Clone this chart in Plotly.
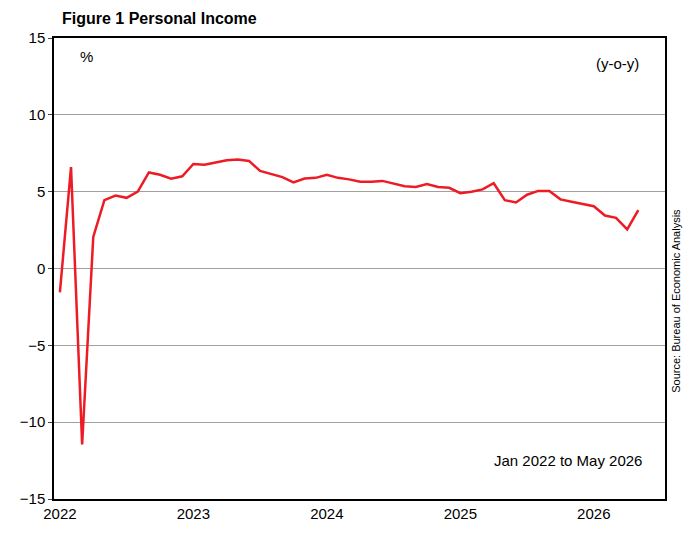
import plotly.graph_objects as go

years = ["2022", "2023", "2024", "2025", "2026"]
income_yoy = [
    -1.55, 6.6, -11.45, 2.05, 4.45, 4.75, 4.6, 5.0, 6.25, 6.1, 5.85, 6.0,
    6.8, 6.75, 6.9, 7.05, 7.1, 7.0, 6.35, 6.15, 5.95, 5.6, 5.85, 5.9,
    6.1, 5.9, 5.8, 5.65, 5.65, 5.7, 5.55, 5.35, 5.3, 5.5, 5.3, 5.25,
    4.9, 5.0, 5.15, 5.55, 4.45, 4.3, 4.8, 5.05, 5.05, 4.5, 4.35, 4.2,
    4.05, 3.45, 3.3, 2.55, 3.8,
]
months = list(range(len(income_yoy)))

fig = go.Figure()
fig.add_trace(go.Scatter(x=months, y=income_yoy, mode="lines",
                         line=dict(color="#ed1c24", width=2.5), showlegend=False))

fig.update_layout(
    width=693, height=539,
    margin=dict(l=31, r=36, t=30, b=48),
    plot_bgcolor="white", paper_bgcolor="white",
    font=dict(family="Liberation Sans, Arial", size=15, color="black"),
    xaxis=dict(range=[-0.53, 54.4], tickvals=[0, 12, 24, 36, 48], ticktext=years,
               showgrid=False, showline=True, linecolor="black", linewidth=1.5,
               mirror=True, ticks="", zeroline=False),
    yaxis=dict(range=[-15, 15], dtick=5, showgrid=True, gridcolor="#a0a0a0",
               gridwidth=1.2, showline=True, linecolor="black", linewidth=1.5,
               mirror=True, ticks="outside", ticklen=4, zeroline=False),
    annotations=[
        dict(text="<b>Figure 1 Personal Income</b>", xref="paper", yref="paper",
             x=0.01, y=1.02, xanchor="left", yanchor="bottom", showarrow=False,
             font=dict(size=16)),
        dict(text="%", xref="paper", yref="paper", x=0.04, y=0.96,
             xanchor="left", yanchor="middle", showarrow=False),
        dict(text="(y-o-y)", xref="paper", yref="paper", x=0.96, y=0.945,
             xanchor="right", yanchor="middle", showarrow=False),
        dict(text="Jan 2022 to May 2026", xref="paper", yref="paper", x=0.965, y=0.083,
             xanchor="right", yanchor="middle", showarrow=False),
        dict(text="Source: Bureau of Economic Analysis", xref="paper", yref="paper",
             x=1.005, y=0.43, xanchor="left", yanchor="middle", textangle=-90,
             showarrow=False, font=dict(size=11)),
    ],
)

fig.write_html("out.html")
